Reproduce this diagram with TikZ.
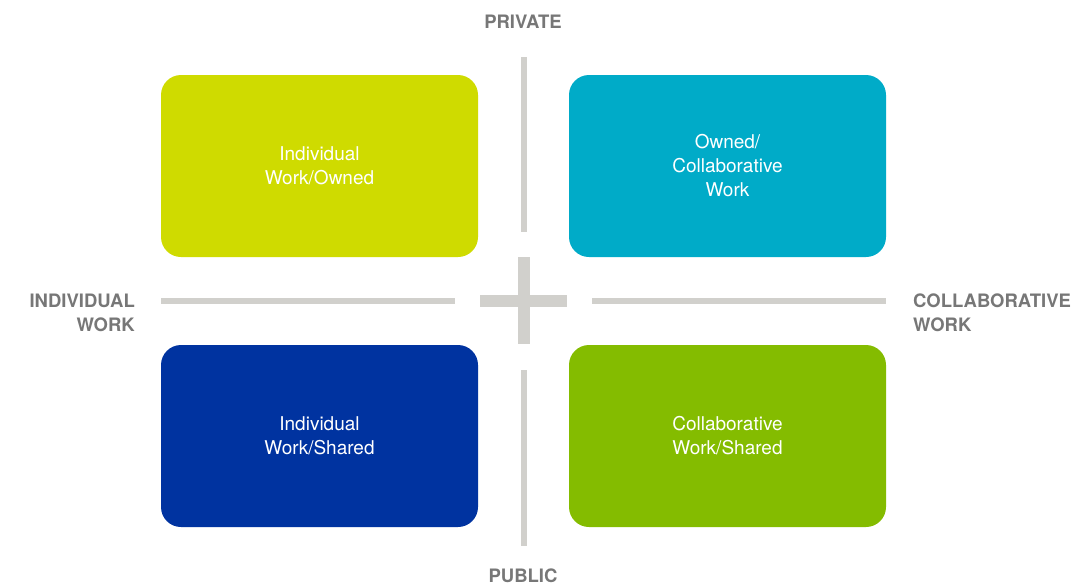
\documentclass[tikz,border=0pt]{standalone}
\usepackage{fontspec}
\setmainfont{TeX Gyre Heros}
\definecolor{lime}{HTML}{CFDB00}
\definecolor{cyanq}{HTML}{00ABC8}
\definecolor{navy}{HTML}{0033A0}
\definecolor{greenq}{HTML}{84BC00}
\definecolor{axis}{HTML}{D1D0CC}
\definecolor{lbl}{HTML}{777777}
\begin{document}
\begin{tikzpicture}[x=1pt,y=-1pt,
  quad/.style={rounded corners=20pt, minimum width=317pt, minimum height=182pt, inner sep=0pt,
    text=white, align=center, font=\fontsize{19}{24}\selectfont},
  axislbl/.style={text=lbl, font=\fontsize{18.5}{24}\selectfont\bfseries, inner sep=0pt},
  axisline/.style={draw=axis, line width=6pt},
  plusbar/.style={draw=axis, line width=12pt}]
\useasboundingbox (0,0) rectangle (1077,587);
\node[quad, fill=lime] (io) at (319.5,166) {Individual\\Work/Owned};
\node[quad, fill=cyanq] (oc) at (727.5,166) {Owned/\\Collaborative\\Work};
\node[quad, fill=navy] (is) at (319.5,436) {Individual\\Work/Shared};
\node[quad, fill=greenq] (cs) at (727.5,436) {Collaborative\\Work/Shared};
% axes
\draw[axisline] (524,57) -- (524,232);
\draw[axisline] (524,370) -- (524,546);
\draw[axisline] (161,301) -- (455,301);
\draw[axisline] (592,301) -- (886,301);
\draw[plusbar] (524,257) -- (524,344);
\draw[plusbar] (480,301) -- (567,301);
% labels
\node[axislbl, anchor=base] (priv) at (523,28) {PRIVATE};
\node[axislbl, anchor=base] (pub) at (523,582) {PUBLIC};
\node[axislbl, anchor=base east, align=right] (iw) at (135,331) {INDIVIDUAL\\WORK};
\node[axislbl, anchor=base west, align=left] (cw) at (913,331) {COLLABORATIVE\\WORK};
\end{tikzpicture}
\end{document}
